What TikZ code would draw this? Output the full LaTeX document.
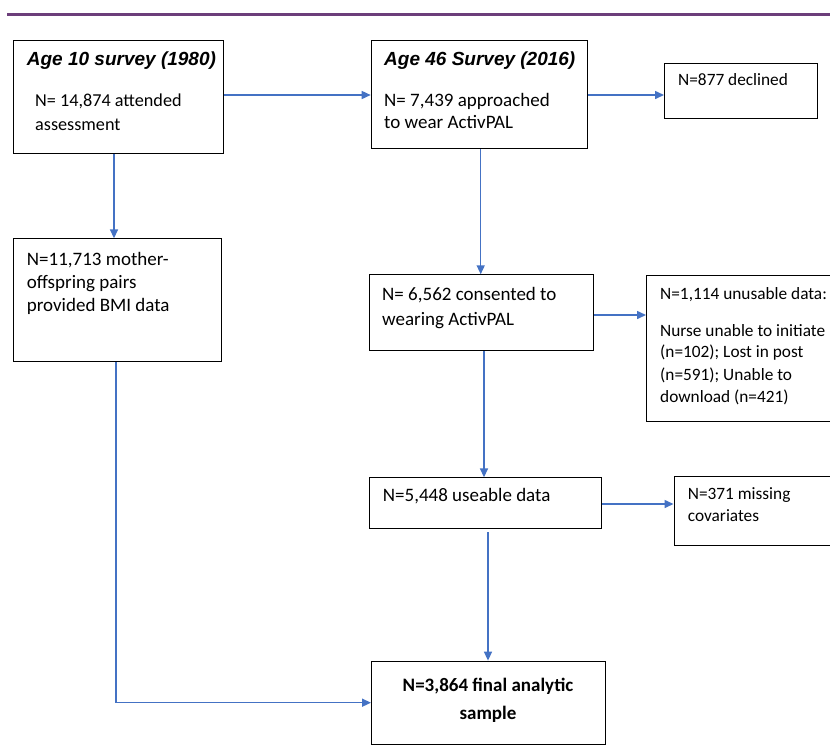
\documentclass[tikz,border=0pt]{standalone}
\usepackage{fontspec}
\setmainfont{Carlito}
\newfontfamily\arialfont{Liberation Sans}
\usetikzlibrary{arrows.meta}
\definecolor{arrowblue}{RGB}{68,114,196}
\definecolor{rulepurple}{RGB}{108,62,122}
\tikzset{
  box/.style={draw=black, line width=1.1pt, rectangle, anchor=north west, inner sep=0pt},
  arr/.style={draw=arrowblue, line width=1.5pt, -{Triangle[length=9pt,width=8pt]}},
  ttl/.style={anchor=base west, inner sep=0pt, font=\arialfont\bfseries\itshape\fontsize{19}{22}\selectfont},
  big/.style={anchor=base west, inner sep=0pt, font=\fontsize{19}{23}\selectfont},
  bigb/.style={anchor=base west, inner sep=0pt, font=\fontsize{18.2}{22}\selectfont},
  sml/.style={anchor=base west, inner sep=0pt, font=\fontsize{17.3}{21}\selectfont},
  fin/.style={anchor=base, inner sep=0pt, font=\bfseries\fontsize{19}{23}\selectfont},
}
\begin{document}
\begin{tikzpicture}[x=1pt,y=-1pt]
\useasboundingbox (0,0) rectangle (830,753);
\clip (0,0) rectangle (830,753);
\fill[white] (0,0) rectangle (830,753);
% top rule
\draw[rulepurple, line width=2.6pt] (7,14.5) -- (830,14.5);
% boxes
\node[box, minimum width=210pt, minimum height=112.7pt] (b1) at (12.7,40) {};
\node[box, minimum width=216.3pt, minimum height=108.3pt] (b2) at (370.7,40) {};
\node[box, minimum width=153.3pt, minimum height=55.6pt] (dec) at (664,62.7) {};
\node[box, minimum width=208pt, minimum height=123pt] (b3) at (13,238.3) {};
\node[box, minimum width=224.3pt, minimum height=76pt] (b4) at (369,274.3) {};
\node[box, minimum width=200pt, minimum height=145.7pt] (unu) at (646,275) {};
\node[box, minimum width=232pt, minimum height=50.4pt] (b5) at (369,477.3) {};
\node[box, minimum width=200pt, minimum height=69.5pt] (mis) at (673.5,475.5) {};
\node[box, minimum width=234pt, minimum height=83.4pt] (fin) at (371,660.6) {};
% texts
\node[ttl] (t1) at (26.7,65) {Age 10 survey (1980)};
\node[bigb] (t1a) at (35,106) {N= 14,874 attended};
\node[bigb] (t1b) at (35,130) {assessment};
\node[ttl] (t2) at (384,65) {Age 46 Survey (2016)};
\node[big] (t2a) at (384,106) {N= 7,439 approached};
\node[big] (t2b) at (384,128) {to wear ActivPAL};
\node[sml] (td) at (678,85) {N=877 declined};
\node[big] (t3a) at (26.7,265) {N=11,713 mother-};
\node[big] (t3b) at (26.7,288.3) {offspring pairs};
\node[big] (t3c) at (26.7,311.7) {provided BMI data};
\node[big] (t4a) at (382,300) {N= 6,562 consented to};
\node[big] (t4b) at (382,325) {wearing ActivPAL};
\node[sml] (tu0) at (660,299) {N=1,114 unusable data:};
\node[sml] (tu1) at (660,336) {Nurse unable to initiate};
\node[sml] (tu2) at (660,357.7) {(n=102); Lost in post};
\node[sml] (tu3) at (660,380) {(n=591); Unable to};
\node[sml] (tu4) at (660,402.7) {download (n=421)};
\node[big] (t5) at (382.7,501.7) {N=5,448 useable data};
\node[sml] (tm1) at (687.7,499.3) {N=371 missing};
\node[sml] (tm2) at (687.7,521.7) {covariates};
\node[fin] (tf1) at (488,691.6) {N=3,864 final analytic};
\node[fin] (tf2) at (488,719) {sample};
% connectors
\draw[arr] (b1.east |- 0,95) -- (b2.west |- 0,95);
\draw[arr] (b2.east |- 0,95) -- (dec.west |- 0,95);
\draw[arr] (b1.south -| 114,0) -- (b3.north -| 114,0);
\draw[arr] (b2.south -| 480.7,0) -- (b4.north -| 480.7,0);
\draw[arr] (b4.east |- 0,315) -- (unu.west |- 0,315);
\draw[arr] (b4.south -| 484,0) -- (b5.north -| 484,0);
\draw[arr] (b5.east |- 0,504) -- (mis.west |- 0,504);
\draw[arr] ([yshift=-3.5pt]b5.south -| 488,0) -- (fin.north -| 488,0);
\draw[arr] (b3.south -| 116,0) |- (fin.west |- 0,702.7);
\end{tikzpicture}
\end{document}
